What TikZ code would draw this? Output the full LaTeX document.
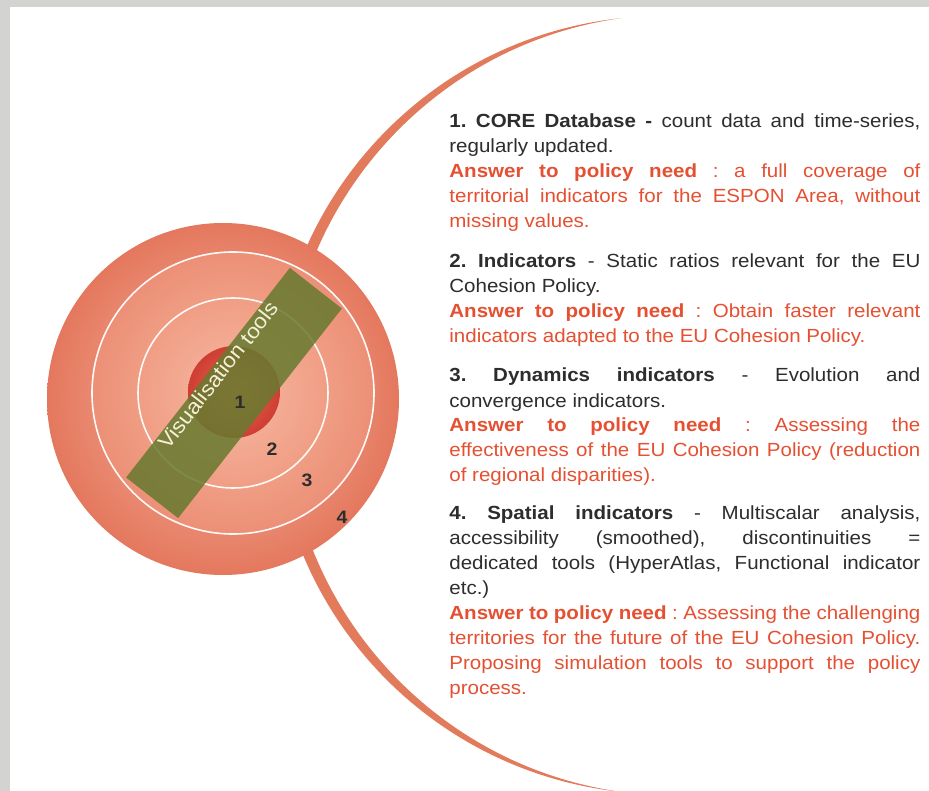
\documentclass[tikz,border=0pt]{standalone}
\usepackage{fontspec}
\setmainfont[FakeStretch=1.08]{Liberation Sans}
\usepackage{xcolor}
\usepackage{tikz}
\usetikzlibrary{positioning,calc}
\definecolor{ESPgray}{RGB}{211,211,209}
\definecolor{ESPsalmon}{RGB}{228,120,94}
\definecolor{ESPmid}{RGB}{236,144,118}
\definecolor{ESPmidlt}{RGB}{240,158,132}
\definecolor{ESPpeach}{RGB}{246,184,162}
\definecolor{ESPred}{RGB}{206,62,50}
\definecolor{ESPredlt}{RGB}{234,104,86}
\definecolor{ESPolive}{RGB}{104,122,48}
\definecolor{ESParc}{RGB}{226,122,92}
\definecolor{ESPtext}{RGB}{45,45,45}
\definecolor{ESPans}{RGB}{230,80,50}
\definecolor{ESPcream}{RGB}{242,242,216}
\newcommand{\itemfont}{\fontsize{19}{25}\selectfont\hyphenpenalty=10000\frenchspacing}
\newcommand{\ansneed}[1]{{\color{ESPans}\textbf{Answer to policy need} #1}}
\tikzstyle{ringbase} = [circle, inner sep=0pt]
\tikzstyle{Rdisc}   = [ringbase, shade, inner color=ESPpeach, outer color=ESPsalmon]
\tikzstyle{Rline}   = [ringbase, draw=white!92!ESPpeach, line width=1.6pt]
\tikzstyle{Rcore}   = [ringbase, shade, inner color=ESPredlt, outer color=ESPred]
\tikzstyle{Rnum}    = [font=\fontsize{18}{18}\selectfont\bfseries, text=ESPtext]
\tikzstyle{visband} = [rectangle, fill=ESPolive, fill opacity=0.86,
                       minimum width=266pt, minimum height=66pt, inner sep=0pt]
\tikzstyle{vistext} = [font=\fontsize{21}{21}\selectfont, text=ESPcream, inner sep=0pt]
\tikzstyle{itembox} = [text width=471pt, align=justify, inner sep=0pt,
                       font=\itemfont, text=ESPtext]

\begin{document}
\begin{tikzpicture}[x=1pt, y=1pt, node distance=14pt, thick]
  \useasboundingbox (0,0) rectangle (929,-791);
  \fill[white] (0,0) rectangle (929,-791);
  \fill[ESPgray] (0,0) rectangle (929,-7);
  \fill[ESPgray] (0,0) rectangle (10,-791);

  \coordinate (arcO) at (662,-405);
  \coordinate (arcI) at (675.7,-405);
  \fill[ESParc] ($(arcO)+(96:389)$) arc[start angle=96, end angle=268, radius=389]
    -- ($(arcI)+(268:390.7)$) arc[start angle=268, end angle=98, radius=390.7] -- cycle;

  \node[Rdisc, minimum size=352pt] (ring4) at (223,-399) {};
  \node[Rline, shade, inner color=ESPpeach, outer color=ESPmid,
        minimum size=282pt] (ring3) at (233,-393) {};
  \node[Rline, shade, inner color=ESPpeach, outer color=ESPmidlt,
        minimum size=190pt] (ring2) at (233,-393) {};
  \node[Rcore, minimum size=92pt]  (ring1) at (234,-392) {};
  \node[visband, rotate=52] (vis) at (234,-393) {};
  \node[vistext, rotate=52] (vislbl) at (218,-375) {Visualisation tools};

  \node[Rnum] (num1) at (240,-402) {1};
  \node[Rnum] (num2) at (272,-449) {2};
  \node[Rnum] (num3) at (307,-480) {3};
  \node[Rnum] (num4) at (342,-517) {4};

  \node[itembox, anchor=north west] (item1) at (449,-109.5) {%
    \strut\textbf{1. CORE Database -} count data and time-series,\linebreak
    regularly updated.\\
    \ansneed{: a full coverage of\linebreak
    territorial indicators for the ESPON Area, without\linebreak
    missing values.\strut}};
  \node[itembox, below=of item1] (item2) {%
    \strut\textbf{2. Indicators} - Static ratios relevant for the EU\linebreak
    Cohesion Policy.\\
    \ansneed{: Obtain faster relevant\linebreak
    indicators adapted to the EU Cohesion Policy.\strut}};
  \node[itembox, below=of item2] (item3) {%
    \strut\textbf{3. Dynamics indicators} - Evolution and\linebreak
    convergence indicators.\\
    \ansneed{: Assessing the\linebreak
    effectiveness of the EU Cohesion Policy (reduction\linebreak
    of regional disparities).\strut}};
  \node[itembox, below=12pt of item3] (item4) {%
    \strut\textbf{4. Spatial indicators} - Multiscalar analysis,\linebreak
    accessibility (smoothed), discontinuities =\linebreak
    dedicated tools (HyperAtlas, Functional indicator\linebreak
    etc.)\\
    \ansneed{: Assessing the challenging\linebreak
    territories for the future of the EU Cohesion Policy.\linebreak
    Proposing simulation tools to support the policy\linebreak
    process.\strut}};
\end{tikzpicture}
\end{document}
